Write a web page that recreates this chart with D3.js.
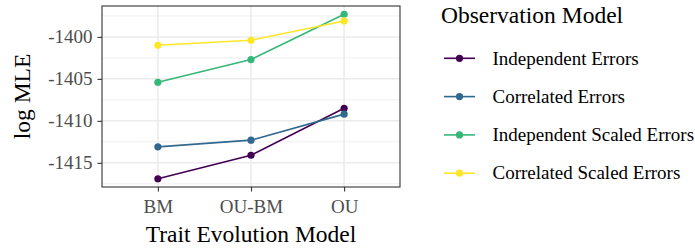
<!DOCTYPE html>
<html>
<head>
<meta charset="utf-8">
<script src="https://cdn.jsdelivr.net/npm/d3@7"></script>
<style>
  body { margin: 0; background: #fff; }
  svg { display: block; font-family: "Liberation Serif", "DejaVu Serif", serif; }
</style>
</head>
<body>
<div id="chart"></div>
<script>
// Data
const models = ["BM", "OU-BM", "OU"];
const seriesNames = ["Independent Errors", "Correlated Errors", "Independent Scaled Errors", "Correlated Scaled Errors"];
const seriesColors = ["#440154", "#31688E", "#35B779", "#FDE725"];
const independentErrors = [-1416.9, -1414.1, -1408.5];
const correlatedErrors = [-1413.1, -1412.3, -1409.2];
const independentScaled = [-1405.4, -1402.7, -1397.3];
const correlatedScaled = [-1401.0, -1400.4, -1398.1];
const yTicks = [-1415, -1410, -1405, -1400];
const yMinor = [-1417.5, -1412.5, -1407.5, -1402.5, -1397.5];

const seriesValues = [independentErrors, correlatedErrors, independentScaled, correlatedScaled];
const series = seriesNames.map((name, i) => ({
  name: name,
  color: seriesColors[i],
  values: models.map((m, j) => ({ model: m, value: seriesValues[i][j] }))
}));

const W = 695, H = 250;
const panel = { left: 102, right: 400, top: 6, bottom: 187 };

const svg = d3.select("#chart").append("svg")
  .attr("width", W)
  .attr("height", H);

// ggplot-like discrete scale with 0.6 expansion
const x = d3.scalePoint()
  .domain(models)
  .range([panel.left + (panel.right - panel.left) * 0.6 / 3.2,
          panel.right - (panel.right - panel.left) * 0.6 / 3.2]);

const allVals = seriesValues.flat();
const lo = d3.min(allVals), hi = d3.max(allVals);
const pad = (hi - lo) * 0.05;
const y = d3.scaleLinear()
  .domain([lo - pad, hi + pad])
  .range([panel.bottom, panel.top]);

// Grid
const grid = svg.append("g");
grid.selectAll(".minor-y")
  .data(yMinor)
  .enter().append("line")
  .attr("x1", panel.left).attr("x2", panel.right)
  .attr("y1", d => y(d)).attr("y2", d => y(d))
  .style("stroke", "#EBEBEB").style("stroke-width", 0.8);
grid.selectAll(".major-y")
  .data(yTicks)
  .enter().append("line")
  .attr("x1", panel.left).attr("x2", panel.right)
  .attr("y1", d => y(d)).attr("y2", d => y(d))
  .style("stroke", "#EBEBEB").style("stroke-width", 1.5);
grid.selectAll(".major-x")
  .data(models)
  .enter().append("line")
  .attr("x1", d => x(d)).attr("x2", d => x(d))
  .attr("y1", panel.top).attr("y2", panel.bottom)
  .style("stroke", "#EBEBEB").style("stroke-width", 1.5);

// Lines and points
const line = d3.line()
  .x(d => x(d.model))
  .y(d => y(d.value));

const sg = svg.append("g");
series.forEach(s => {
  sg.append("path")
    .datum(s.values)
    .attr("d", line)
    .attr("fill", "none")
    .attr("stroke", s.color)
    .attr("stroke-width", 1.6);
  sg.selectAll(null)
    .data(s.values)
    .enter().append("circle")
    .attr("cx", d => x(d.model))
    .attr("cy", d => y(d.value))
    .attr("r", 3.6)
    .attr("fill", s.color);
});

// Panel border
svg.append("rect")
  .attr("x", panel.left).attr("y", panel.top)
  .attr("width", panel.right - panel.left)
  .attr("height", panel.bottom - panel.top)
  .attr("fill", "none")
  .attr("stroke", "#333333")
  .attr("stroke-width", 1.1);

// Axes
const xAxis = svg.append("g")
  .attr("transform", `translate(0,${panel.bottom})`)
  .call(d3.axisBottom(x).tickSize(4.5).tickPadding(8));
xAxis.select(".domain").remove();
xAxis.selectAll("line").style("stroke", "#333333").style("stroke-width", 1.1);
xAxis.selectAll("text")
  .style("font-family", "Liberation Serif")
  .style("font-size", "19px")
  .style("fill", "#4D4D4D");

const yAxis = svg.append("g")
  .attr("transform", `translate(${panel.left},0)`)
  .call(d3.axisLeft(y).tickValues(yTicks).tickFormat(d => String(d)).tickSize(4.5).tickPadding(5));
yAxis.select(".domain").remove();
yAxis.selectAll("line").style("stroke", "#333333").style("stroke-width", 1.1);
yAxis.selectAll("text")
  .style("font-family", "Liberation Serif")
  .style("font-size", "19px")
  .style("fill", "#4D4D4D");

// Axis titles
svg.append("text")
  .attr("x", (panel.left + panel.right) / 2)
  .attr("y", 242)
  .attr("text-anchor", "middle")
  .style("font-size", "23.5px")
  .style("fill", "#000")
  .text("Trait Evolution Model");

svg.append("text")
  .attr("transform", `translate(29.5,${(panel.top + panel.bottom) / 2}) rotate(-90)`)
  .attr("text-anchor", "middle")
  .style("font-size", "23.5px")
  .style("fill", "#000")
  .text("log MLE");

// Legend
const legend = svg.append("g").attr("transform", "translate(441,0)");
legend.append("text")
  .attr("x", 0).attr("y", 23)
  .style("font-size", "23.5px")
  .style("fill", "#000")
  .text("Observation Model");

const items = legend.selectAll(".item")
  .data(series)
  .enter().append("g")
  .attr("transform", (d, i) => `translate(0,${58.3 + i * 38.3})`);
items.append("line")
  .attr("x1", 3).attr("x2", 34)
  .attr("y1", 0).attr("y2", 0)
  .attr("stroke", d => d.color)
  .attr("stroke-width", 1.6);
items.append("circle")
  .attr("cx", 18.5).attr("cy", 0).attr("r", 3.6)
  .attr("fill", d => d.color);
items.append("text")
  .attr("x", 51.5).attr("y", 0)
  .attr("dy", "0.33em")
  .style("font-size", "19px")
  .style("fill", "#000")
  .text(d => d.name);
</script>
</body>
</html>
